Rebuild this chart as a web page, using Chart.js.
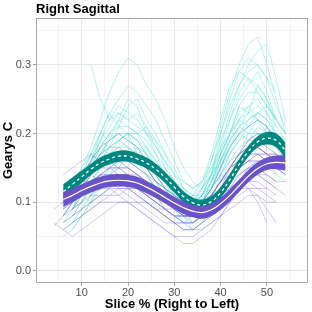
<!DOCTYPE html>
<html>
<head>
<meta charset="utf-8">
<script src="https://cdn.jsdelivr.net/npm/chart.js@4/dist/chart.umd.min.js"></script>
<style>
  html, body { margin: 0; padding: 0; background: #fff; }
  #wrap { width: 312px; height: 312px; }
</style>
</head>
<body>
<div id="wrap"><canvas id="chart" width="312" height="312"></canvas></div>
<script>
// slice positions (% right to left)
const xs = [4, 6, 8, 10, 12, 14, 16, 18, 20, 22, 24, 26, 28, 30, 32, 34, 36, 38, 40, 42, 44, 46, 48, 50, 52, 54, 56];

// individual subjects, group 1 (turquoise)
const tealLines = [
  [null,0.09,0.11,0.14,0.17,0.2,0.23,0.25,0.27,0.26,0.24,0.22,0.19,0.16,0.13,0.12,0.13,0.16,0.2,0.24,0.27,0.29,0.3,0.28,0.24,0.21,null],
  [null,null,null,null,0.3,0.25,0.22,0.23,0.22,0.21,0.2,0.19,0.17,0.14,0.12,0.11,0.12,0.14,0.16,0.18,0.2,0.21,0.2,0.19,0.17,null,null],
  [null,null,0.12,0.15,0.18,0.22,0.26,0.29,0.31,0.3,0.27,0.25,0.22,0.18,0.15,0.13,0.12,0.14,0.17,0.2,0.22,0.23,0.22,0.2,0.18,null,null],
  [null,null,0.1,0.12,0.14,0.16,0.18,0.19,0.2,0.19,0.17,0.15,0.13,0.11,0.1,0.1,0.12,0.16,0.21,0.26,0.3,0.33,0.34,0.3,0.25,0.2,null],
  [null,null,0.09,0.11,0.13,0.15,0.17,0.18,0.18,0.17,0.16,0.14,0.12,0.1,0.09,0.1,0.11,0.14,0.18,0.23,0.27,0.3,0.32,0.33,0.28,0.22,null],
  [null,0.08,0.1,0.12,0.15,0.17,0.19,0.2,0.2,0.19,0.17,0.15,0.13,0.11,0.1,0.09,0.1,0.12,0.15,0.18,0.21,0.23,0.24,0.23,0.21,0.19,null],
  [null,0.05,0.06,0.08,0.1,0.12,0.13,0.14,0.14,0.13,0.12,0.11,0.09,0.08,0.07,0.07,0.08,0.1,0.12,0.14,0.16,0.17,0.18,0.17,0.16,null,null],
  [null,null,0.1,0.12,0.14,0.16,0.17,0.17,0.17,0.16,0.15,0.13,0.12,0.1,0.09,0.09,0.1,0.12,0.15,0.17,0.19,0.2,0.2,0.2,0.19,0.18,null],
  [null,0.07,0.09,0.12,0.15,0.19,0.22,0.24,0.23,0.22,0.2,0.18,0.16,0.13,0.11,0.1,0.11,0.13,0.16,0.19,0.21,0.22,0.23,0.22,0.2,null,null],
  [null,null,0.07,0.09,0.11,0.12,0.13,0.13,0.12,0.12,0.11,0.1,0.09,0.08,0.08,0.08,0.09,0.11,0.13,0.16,0.18,0.19,0.19,0.18,0.17,0.15,null],
  [null,null,0.11,0.13,0.15,0.17,0.18,0.19,0.2,0.2,0.19,0.17,0.14,0.12,0.1,0.09,0.1,0.13,0.17,0.22,0.26,0.28,0.27,0.25,0.22,null,null],
  [null,0.1,0.12,0.14,0.16,0.18,0.2,0.21,0.21,0.2,0.18,0.16,0.14,0.12,0.11,0.1,0.11,0.12,0.14,0.17,0.19,0.21,0.22,0.21,0.19,0.18,null],
  [null,null,0.09,0.12,0.16,0.2,0.23,0.21,0.24,0.25,0.22,0.2,0.17,0.15,0.12,0.11,0.11,0.13,0.15,0.18,0.2,0.19,0.21,0.2,null,null,null],
  [null,0.06,0.07,0.09,0.11,0.13,0.15,0.16,0.16,0.15,0.14,0.12,0.1,0.09,0.08,0.08,0.09,0.12,0.16,0.2,0.24,0.26,0.26,0.24,0.22,0.2,null],
  [null,null,0.12,0.13,0.15,0.17,0.19,0.2,0.19,0.18,0.16,0.14,0.12,0.1,0.09,0.09,0.1,0.11,0.13,0.15,0.17,0.18,0.19,0.19,0.18,0.17,null],
  [null,null,0.1,0.11,0.13,0.15,0.17,0.18,0.19,0.18,0.17,0.15,0.13,0.11,0.1,0.09,0.1,0.12,0.15,0.19,0.22,0.24,0.25,0.23,0.2,0.18,null],
  [null,null,0.08,0.1,0.13,0.12,0.15,0.17,0.16,0.18,0.17,0.14,0.13,0.1,0.09,0.07,0.09,0.1,0.14,0.13,0.17,0.2,0.19,0.21,0.18,null,null],
  [null,0.1,0.13,0.12,0.16,0.19,0.18,0.21,0.2,0.17,0.18,0.15,0.14,0.11,0.1,0.11,0.1,0.13,0.17,0.2,0.24,0.23,0.27,0.25,0.21,null,null],
  [null,null,0.09,0.11,0.1,0.13,0.14,0.16,0.15,0.14,0.13,0.12,0.1,0.09,0.07,0.08,0.09,0.11,0.13,0.15,0.16,0.18,0.17,0.16,0.15,0.14,null],
  [null,null,0.13,0.15,0.17,0.16,0.2,0.22,0.21,0.2,0.21,0.19,0.15,0.13,0.12,0.1,0.11,0.14,0.19,0.22,0.25,0.27,0.29,0.26,0.22,0.2,null],
  [null,0.07,0.08,0.1,0.12,0.14,0.13,0.15,0.17,0.16,0.14,0.12,0.11,0.09,0.08,0.08,0.1,0.13,0.16,0.19,0.21,0.2,0.22,0.21,0.19,null,null],
  [null,null,0.11,0.14,0.17,0.2,0.19,0.22,0.25,0.24,0.2,0.17,0.15,0.13,0.11,0.1,0.12,0.15,0.18,0.2,0.23,0.24,0.22,0.21,0.19,null,null],
  [null,null,null,0.13,0.15,0.18,0.17,0.19,0.18,0.17,0.15,0.14,0.12,0.11,0.09,0.09,0.11,0.14,0.2,0.25,0.29,0.31,0.3,0.28,0.26,null,null],
  [null,0.08,0.1,0.11,0.13,0.15,0.16,0.15,0.17,0.16,0.15,0.13,0.11,0.1,0.08,0.06,0.07,0.09,0.11,0.12,0.14,0.15,0.16,0.15,0.14,0.13,null],
  [null,null,0.12,0.14,0.16,0.19,0.21,0.23,0.22,0.23,0.21,0.18,0.16,0.14,0.13,0.12,0.13,0.15,0.17,0.2,0.22,0.21,0.23,0.22,0.2,0.19,null],
  [null,0.09,0.11,0.13,0.14,0.16,0.18,0.19,0.18,0.16,0.15,0.13,0.12,0.11,0.1,0.11,0.13,0.17,0.22,0.27,0.29,0.28,0.26,0.24,0.22,null,null],
  [null,null,0.06,0.08,0.1,0.11,0.12,0.14,0.13,0.12,0.1,0.09,0.08,0.07,0.06,0.06,0.07,0.09,0.11,0.13,0.15,0.16,0.15,0.14,null,null,null],
  [null,null,0.1,0.13,0.15,0.18,0.2,0.19,0.2,0.19,0.18,0.16,0.14,0.12,0.11,0.1,0.1,0.12,0.14,0.17,0.2,0.22,0.23,0.24,0.22,0.2,null]
];

// individual subjects, group 2 (purple)
const purpleLines = [
  [0.065,0.08,0.1,0.12,0.13,0.14,0.14,0.14,0.14,0.13,0.12,0.11,0.1,0.09,0.08,0.08,0.09,0.1,0.12,0.14,0.15,0.16,0.16,0.16,0.15,null,null],
  [null,0.1,0.12,0.14,0.16,0.18,0.19,0.2,0.19,0.18,0.16,0.14,0.12,0.11,0.1,0.09,0.1,0.11,0.13,0.15,0.17,0.18,0.18,0.17,0.16,null,null],
  [null,0.06,0.07,0.08,0.09,0.1,0.1,0.1,0.1,0.09,0.08,0.07,0.06,0.05,0.05,0.05,0.06,0.07,0.08,0.09,0.1,0.11,0.11,0.1,0.1,null,null],
  [null,0.14,0.15,0.16,0.17,0.16,0.16,0.15,0.15,0.14,0.13,0.12,0.11,0.1,0.09,0.09,0.1,0.11,0.13,0.14,0.16,0.17,0.18,0.17,0.16,0.15,null],
  [null,0.09,0.1,0.11,0.12,0.13,0.13,0.13,0.13,0.13,0.12,0.11,0.1,0.09,0.08,0.08,0.08,0.09,0.11,0.13,0.15,0.16,0.17,0.17,0.17,0.16,null],
  [null,null,0.11,0.12,0.13,0.14,0.15,0.15,0.15,0.14,0.13,0.12,0.11,0.1,0.09,0.09,0.1,0.12,0.15,0.18,0.2,0.21,0.22,0.21,0.19,null,null],
  [null,null,0.08,0.09,0.1,0.11,0.11,0.12,0.12,0.11,0.1,0.09,0.08,0.07,0.07,0.07,0.08,0.09,0.1,0.11,0.12,0.12,0.11,0.09,0.07,null,null],
  [null,0.1,0.11,0.12,0.13,0.14,0.14,0.14,0.14,0.13,0.12,0.11,0.1,0.09,0.09,0.09,0.1,0.11,0.12,0.14,0.15,0.16,0.16,0.16,0.15,0.14,null],
  [null,null,0.07,0.08,0.09,0.1,0.11,0.11,0.1,0.09,0.08,0.07,0.06,0.05,0.04,0.04,0.05,0.06,0.08,0.1,0.12,0.13,0.13,0.12,null,null,null],
  [null,0.11,0.12,0.13,0.14,0.15,0.16,0.16,0.16,0.15,0.14,0.13,0.11,0.1,0.09,0.09,0.09,0.1,0.12,0.14,0.16,0.17,0.17,0.16,0.15,0.14,null],
  [null,null,0.1,0.11,0.12,0.12,0.13,0.13,0.12,0.12,0.11,0.1,0.09,0.08,0.08,0.08,0.09,0.1,0.11,0.12,0.13,0.12,0.1,0.07,null,null,null],
  [null,0.08,0.1,0.12,0.14,0.15,0.16,0.17,0.17,0.16,0.15,0.13,0.12,0.1,0.09,0.09,0.09,0.11,0.13,0.15,0.17,0.18,0.19,0.18,0.17,0.16,null],
  [0.07,0.06,0.05,0.06,0.07,0.08,0.09,0.1,0.1,0.1,0.09,0.08,0.07,0.07,0.06,0.06,0.07,0.08,0.1,0.11,0.13,0.14,0.14,0.14,0.13,null,null],
  [null,null,0.12,0.13,0.13,0.14,0.15,0.15,0.14,0.14,0.13,0.12,0.11,0.1,0.09,0.08,0.09,0.1,0.12,0.14,0.15,0.16,0.17,0.17,0.16,0.15,null],
  [null,0.09,0.1,0.12,0.11,0.13,0.14,0.13,0.14,0.12,0.11,0.11,0.09,0.08,0.07,0.07,0.08,0.09,0.1,0.12,0.14,0.15,0.15,0.14,0.13,0.13,null],
  [0.09,0.1,0.11,0.13,0.14,0.15,0.15,0.16,0.15,0.14,0.13,0.12,0.11,0.1,0.1,0.09,0.1,0.11,0.13,0.15,0.16,0.18,0.19,0.19,0.18,0.16,null],
  [null,0.07,0.08,0.09,0.1,0.11,0.12,0.11,0.12,0.11,0.1,0.09,0.08,0.07,0.07,0.06,0.07,0.08,0.09,0.1,0.12,0.13,0.12,0.12,0.11,null,null],
  [null,null,0.11,0.12,0.14,0.13,0.14,0.15,0.14,0.13,0.12,0.11,0.1,0.09,0.08,0.08,0.09,0.1,0.12,0.14,0.16,0.17,0.18,0.17,0.16,0.15,null],
  [null,0.12,0.11,0.12,0.13,0.12,0.13,0.12,0.12,0.11,0.1,0.09,0.09,0.08,0.08,0.07,0.08,0.09,0.1,0.11,0.13,0.14,0.14,0.13,0.12,null,null],
  [null,null,0.09,0.1,0.12,0.13,0.13,0.14,0.13,0.12,0.11,0.1,0.09,0.08,0.07,0.07,0.08,0.1,0.12,0.15,0.17,0.19,0.2,0.19,0.18,null,null],
  [null,0.08,0.09,0.11,0.12,0.14,0.15,0.14,0.14,0.13,0.12,0.11,0.1,0.1,0.09,0.08,0.09,0.1,0.12,0.13,0.14,0.15,0.16,0.15,0.15,0.14,null],
  [null,null,0.1,0.11,0.12,0.12,0.12,0.12,0.11,0.1,0.1,0.09,0.08,0.07,0.06,0.06,0.06,0.07,0.08,0.1,0.11,0.12,0.12,0.11,0.1,null,null],
  [null,0.1,0.12,0.13,0.15,0.16,0.17,0.16,0.16,0.15,0.14,0.12,0.11,0.1,0.09,0.09,0.1,0.12,0.14,0.16,0.17,0.18,0.18,0.17,0.17,0.16,null],
  [null,null,0.09,0.1,0.11,0.11,0.12,0.13,0.13,0.12,0.11,0.1,0.09,0.09,0.08,0.08,0.09,0.11,0.13,0.15,0.16,0.17,0.17,0.16,0.14,null,null],
  [null,0.11,0.1,0.11,0.12,0.14,0.13,0.14,0.13,0.12,0.11,0.1,0.09,0.08,0.08,0.08,0.09,0.1,0.11,0.12,0.13,0.15,0.14,0.13,0.12,0.11,null],
  [null,null,0.12,0.14,0.15,0.17,0.18,0.18,0.17,0.16,0.15,0.13,0.12,0.11,0.1,0.1,0.1,0.11,0.13,0.15,0.17,0.19,0.2,0.19,0.18,null,null]
];

// smoothed group fits and their ribbon half-widths
const tealFit = [null,0.115,0.126,0.137,0.148,0.157,0.163,0.167,0.167,0.163,0.157,0.148,0.136,0.122,0.108,0.099,0.096,0.101,0.114,0.133,0.155,0.174,0.188,0.193,0.19,0.175,null];
const tealSe = [null,0.011,0.01,0.009,0.008,0.008,0.008,0.008,0.008,0.008,0.008,0.008,0.008,0.008,0.008,0.008,0.008,0.008,0.008,0.008,0.008,0.008,0.008,0.009,0.01,0.012,null];
const purpleFit = [null,0.104,0.11,0.117,0.123,0.128,0.131,0.132,0.131,0.128,0.122,0.115,0.107,0.099,0.092,0.087,0.085,0.089,0.098,0.11,0.124,0.138,0.149,0.156,0.158,0.157,null];
const purpleSe = [null,0.011,0.01,0.009,0.009,0.009,0.009,0.009,0.009,0.009,0.009,0.009,0.009,0.009,0.009,0.009,0.009,0.009,0.009,0.009,0.009,0.009,0.009,0.009,0.01,0.011,null];

const xTicks = [5, 10, 15, 20, 25, 30, 35, 40, 45, 50, 55];
const yTicks = [0, 0.05, 0.1, 0.15, 0.2, 0.25, 0.3, 0.35];

const FONT = "'Liberation Sans', Arial, Helvetica, sans-serif";
const TEAL = '#00877f';
const PURPLE = '#6a52c8';

const pts = (vals) => xs.map((x, i) => ({ x: x, y: vals[i] }));

const thin = (vals, color, order) => ({
  data: pts(vals),
  borderColor: color,
  borderWidth: 0.8,
  pointRadius: 0,
  tension: 0,
  fill: false,
  order: order
});

const datasets = [];
tealLines.forEach(v => datasets.push(thin(v, 'rgba(64,224,208,0.5)', 50)));
purpleLines.forEach(v => datasets.push(thin(v, 'rgba(135,115,225,0.5)', 45)));

// ribbons: upper fills down to the following (lower) dataset
const ribbon = (fit, se, color, order) => {
  datasets.push({
    data: pts(fit.map((v, i) => v == null ? null : v + se[i])),
    borderWidth: 0, pointRadius: 0, tension: 0.4,
    backgroundColor: color, fill: '+1', order: order
  });
  datasets.push({
    data: pts(fit.map((v, i) => v == null ? null : v - se[i])),
    borderWidth: 0, pointRadius: 0, tension: 0.4,
    fill: false, order: order
  });
};
ribbon(tealFit, tealSe, TEAL, 30);
datasets.push({
  data: pts(tealFit), borderColor: '#ffffff', borderWidth: 1.3,
  borderDash: [3, 3], pointRadius: 0, tension: 0.4, fill: false, order: 25
});
ribbon(purpleFit, purpleSe, PURPLE, 20);
datasets.push({
  data: pts(purpleFit), borderColor: '#ffffff', borderWidth: 1.2,
  pointRadius: 0, tension: 0.4, fill: false, order: 15
});

// ggplot-like panel border and left-aligned title
const panelBits = {
  id: 'panelBits',
  afterDraw(chart) {
    const { ctx, chartArea: a } = chart;
    ctx.save();
    ctx.strokeStyle = '#a6a6a6';
    ctx.lineWidth = 1;
    ctx.strokeRect(a.left + 0.5, a.top + 0.5, a.right - a.left - 1, a.bottom - a.top - 1);
    ctx.fillStyle = '#000';
    ctx.font = 'bold 13px ' + FONT;
    ctx.textBaseline = 'middle';
    ctx.fillText('Right Sagittal', a.left, 9);
    ctx.restore();
  }
};

new Chart(document.getElementById('chart'), {
  type: 'line',
  data: { datasets: datasets },
  options: {
    responsive: false,
    animation: false,
    devicePixelRatio: 1,
    layout: { padding: { top: 18, right: 4, left: 0, bottom: 0 } },
    plugins: {
      legend: { display: false },
      tooltip: { enabled: false },
      title: { display: false }
    },
    scales: {
      x: {
        type: 'linear',
        min: 0.13,
        max: 58.87,
        afterBuildTicks: (s) => { s.ticks = xTicks.map(v => ({ value: v })); },
        afterFit: (s) => { s.height = 29; },
        border: { display: false },
        grid: {
          color: (c) => (c.tick && c.tick.value % 10 === 0) ? '#e6e6e6' : '#f3f3f3',
          tickColor: (c) => (c.tick && c.tick.value % 10 === 0) ? '#a6a6a6' : 'rgba(0,0,0,0)',
          tickLength: 3
        },
        ticks: {
          autoSkip: false,
          maxRotation: 0,
          padding: 0,
          color: '#4d4d4d',
          font: { family: FONT, size: 11 },
          callback: (v) => v % 10 === 0 ? String(v) : ''
        },
        title: {
          display: true,
          text: 'Slice % (Right to Left)',
          color: '#000',
          font: { family: FONT, size: 13, weight: 'bold' },
          padding: { top: 0, bottom: 0 }
        }
      },
      y: {
        type: 'linear',
        min: -0.0175,
        max: 0.368,
        afterBuildTicks: (s) => { s.ticks = yTicks.map(v => ({ value: v })); },
        afterFit: (s) => { s.width = 36; },
        border: { display: false },
        grid: {
          color: (c) => (c.tick && Math.round(c.tick.value * 100) % 10 === 0) ? '#e6e6e6' : '#f3f3f3',
          tickColor: (c) => (c.tick && Math.round(c.tick.value * 100) % 10 === 0) ? '#a6a6a6' : 'rgba(0,0,0,0)',
          tickLength: 3
        },
        ticks: {
          autoSkip: false,
          padding: 2,
          color: '#4d4d4d',
          font: { family: FONT, size: 11 },
          callback: (v) => Math.round(v * 100) % 10 === 0 ? v.toFixed(1) : ''
        },
        title: {
          display: true,
          text: 'Gearys C',
          color: '#000',
          font: { family: FONT, size: 13, weight: 'bold' },
          padding: { top: 1, bottom: 0 }
        }
      }
    }
  },
  plugins: [panelBits]
});
</script>
</body>
</html>
